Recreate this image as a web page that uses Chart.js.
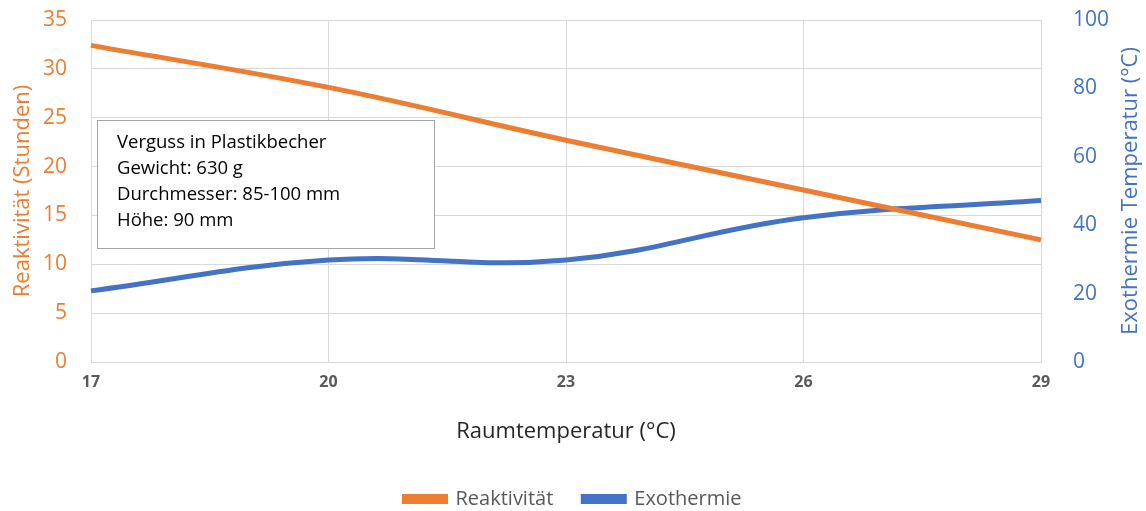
<!DOCTYPE html>
<html>
<head>
<meta charset="utf-8">
<script src="https://cdn.jsdelivr.net/npm/chart.js@4"></script>
<style>
  html, body { margin: 0; padding: 0; background: #fff; }
  #wrap { width: 1146px; height: 511px; }
</style>
</head>
<body>
<div id="wrap"><canvas id="chart"></canvas></div>
<script>
  // Raumtemperatur (°C)
  const temps = ['17', '20', '23', '26', '29'];
  // Reaktivität (Stunden)
  const reaktivitaet = [32.4, 28.1, 22.7, 17.6, 12.5];
  // Exothermie Temperatur (°C)
  const exothermie = [20.8, 29.8, 29.8, 42.2, 47.2];

  const noteLines = ['Verguss in Plastikbecher', 'Gewicht: 630 g', 'Durchmesser: 85-100 mm', 'Höhe: 90 mm'];

  const ORANGE = '#ED7D31';
  const BLUE = '#4472C4';
  const FONT = '"Open Sans", "Liberation Sans", sans-serif';

  // Textfeld + rechter Achsentitel (von unten nach oben gelesen)
  const extrasPlugin = {
    id: 'extras',
    afterDatasetsDraw(chart) {
      const ctx = chart.ctx;
      ctx.save();
      ctx.fillStyle = '#fff';
      ctx.fillRect(97, 120, 337, 128);
      ctx.strokeStyle = '#a6a6a6';
      ctx.lineWidth = 1;
      ctx.strokeRect(97.5, 120.5, 337, 128);
      ctx.fillStyle = '#000';
      ctx.font = '18.5px ' + FONT;
      ctx.textBaseline = 'middle';
      noteLines.forEach((t, i) => ctx.fillText(t, 117, 143 + i * 26));
      ctx.restore();
    },
    afterDraw(chart) {
      const ctx = chart.ctx;
      const a = chart.chartArea;
      ctx.save();
      ctx.translate(1131, (a.top + a.bottom) / 2);
      ctx.rotate(-Math.PI / 2);
      ctx.fillStyle = BLUE;
      ctx.font = '22px ' + FONT;
      ctx.textAlign = 'center';
      ctx.textBaseline = 'middle';
      ctx.fillText('Exothermie Temperatur (°C)', 0, 0);
      ctx.restore();
    }
  };

  // tick padding should not push the plot area down
  function fixY(w) {
    return s => { s.width = w; s.paddingTop = 0; s.paddingBottom = 0; };
  }

  new Chart(document.getElementById('chart'), {
    type: 'line',
    data: {
      labels: temps,
      datasets: [{
        label: 'Reaktivität',
        data: reaktivitaet,
        borderColor: ORANGE,
        backgroundColor: ORANGE,
        borderWidth: 5,
        pointRadius: 0,
        tension: 0.4,
        yAxisID: 'y'
      }, {
        label: 'Exothermie',
        data: exothermie,
        borderColor: BLUE,
        backgroundColor: BLUE,
        borderWidth: 5,
        pointRadius: 0,
        tension: 0.4,
        yAxisID: 'y1'
      }]
    },
    options: {
      responsive: true,
      maintainAspectRatio: false,
      animation: false,
      layout: { padding: { top: 20, left: 0, right: 0, bottom: 0 } },
      plugins: {
        tooltip: { enabled: false },
        legend: {
          position: 'bottom',
          maxHeight: 52,
          labels: {
            font: { family: FONT, size: 20 },
            color: '#595959',
            boxWidth: 41,
            boxHeight: 5,
            padding: 30
          }
        }
      },
      scales: {
        x: {
          offset: false,
          grid: { color: '#d9d9d9', drawTicks: false },
          border: { color: '#d9d9d9' },
          ticks: { color: '#595959', font: { family: FONT, size: 16, weight: 'bold' }, padding: 11 },
          title: { display: true, text: 'Raumtemperatur (°C)', color: '#262626', font: { family: FONT, size: 22 }, padding: { top: 0, bottom: 14 } },
          afterFit(s) { s.height = 97; }
        },
        y: {
          position: 'left',
          min: 0, max: 35,
          ticks: { stepSize: 5, color: ORANGE, font: { family: FONT, size: 21 }, padding: 24 },
          grid: { color: '#d9d9d9', drawTicks: false },
          border: { display: false },
          title: { display: true, text: 'Reaktivität (Stunden)', color: ORANGE, font: { family: FONT, size: 22 }, padding: { top: 10, bottom: 0 } },
          afterFit: fixY(91)
        },
        y1: {
          position: 'right',
          min: 0, max: 100,
          ticks: { stepSize: 20, color: BLUE, font: { family: FONT, size: 21 }, padding: 24 },
          grid: { display: false },
          border: { display: false },
          afterFit: fixY(105)
        }
      }
    },
    plugins: [extrasPlugin]
  });
</script>
</body>
</html>
